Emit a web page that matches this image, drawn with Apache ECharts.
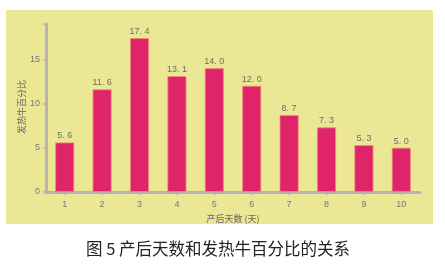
<!DOCTYPE html>
<html><head><meta charset="utf-8">
<script src="https://cdn.jsdelivr.net/npm/echarts@6/dist/echarts.min.js"></script>
<style>html,body{margin:0;padding:0;background:#fff}#c{width:445px;height:270px}</style>
</head><body><div id="c"></div>
<script>
const categories = ['1','2','3','4','5','6','7','8','9','10'];
const values = [5.6, 11.6, 17.4, 13.1, 14.0, 12.0, 8.7, 7.3, 5.3, 5.0];
const yTicks = [0, 5, 10, 15];

const chart = echarts.init(document.getElementById('c'), null, {renderer:'canvas'});
chart.setOption({
  backgroundColor: '#ffffff',
  animation: false,
  graphic: [
    {type:'rect', z:-10, shape:{x:6, y:10, width:427, height:214}, style:{fill:'#ece795'}},
    {type:'text', x:218, y:249, style:{text:'图 5 产后天数和发热牛百分比的关系', font:'16.5px "Noto Sans CJK SC"', fill:'#222', align:'center', verticalAlign:'middle'}},
    {type:'text', x:22, y:107, rotation:Math.PI/2,
      style:{text:'发热牛百分比', font:'9px "Noto Sans CJK SC"', fill:'#666', align:'center', verticalAlign:'middle'}}
  ],
  grid: {left:46, right:25, top:24, bottom:78, containLabel:false},
  xAxis: {
    type:'category', data:categories,
    name:'产后天数 (天)', nameLocation:'middle', nameGap:22,
    nameTextStyle:{color:'#666', fontSize:9, fontFamily:'Noto Sans CJK SC'},
    axisLine:{show:true, lineStyle:{color:'#b4b4b4', width:3}},
    axisTick:{show:true, alignWithLabel:true, length:3, lineStyle:{color:'#b4b4b4', width:1.5}},
    axisLabel:{color:'#777', fontSize:9, margin:8, fontFamily:'Liberation Sans'}
  },
  yAxis: {
    type:'value', min:0, max:19, interval:5,
    axisLine:{show:true, lineStyle:{color:'#b4b4b4', width:3}},
    axisTick:{show:true, length:3, lineStyle:{color:'#b4b4b4', width:1.5}},
    axisLabel:{color:'#777', fontSize:9, margin:6, fontFamily:'Liberation Sans',
      formatter: v => yTicks.includes(v) ? String(v) : ''},
    splitLine:{show:false}
  },
  series: [{
    type:'bar', data:values, barWidth:19,
    itemStyle:{color:'#e0246a', borderColor:'#f08a7a', borderWidth:0.8},
    label:{show:true, position:'top', distance:2, color:'#6e6e5e', fontSize:9, fontFamily:'Liberation Sans',
      formatter: p => p.value.toFixed(1).replace('.', '. ')}
  }]
});
</script></body></html>
